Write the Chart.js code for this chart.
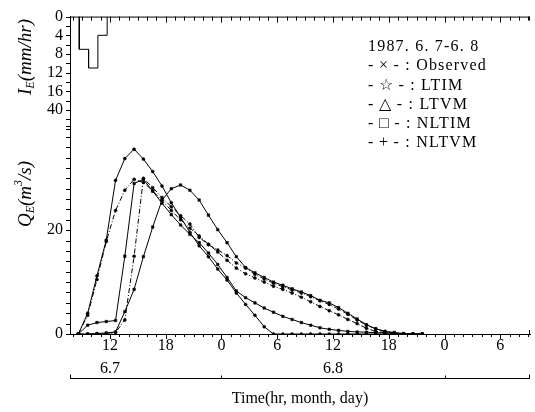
<!DOCTYPE html>
<html><head><meta charset="utf-8">
<script src="https://cdn.jsdelivr.net/npm/chart.js@4.4.1/dist/chart.umd.min.js"></script>
<style>html,body{margin:0;padding:0;background:#fff;}canvas{display:block;}</style>
</head><body>
<canvas id="c" width="535" height="412"></canvas>
<script>
// ---- data (hours counted from 6.7 00:00) ----
const hours = [8.6, 9.6, 10.6, 11.6, 12.6, 13.6, 14.6, 15.6, 16.6, 17.6, 18.6, 19.6, 20.6, 21.6, 22.6, 23.6, 24.6, 25.6, 26.6, 27.6, 28.6, 29.6, 30.6, 31.6, 32.6, 33.6, 34.6, 35.6, 36.6, 37.6, 38.6, 39.6, 40.6, 41.6, 42.6, 43.6, 44.6, 45.6];
const observed = [0, 0, 0.1, 0.2, 0.4, 4.3, 8.6, 14.9, 20.6, 25.8, 28.0, 28.7, 27.7, 25.8, 22.9, 20.1, 17.6, 14.9, 12.8, 11.8, 10.9, 10.0, 9.4, 8.7, 8.1, 7.4, 6.5, 6.0, 5.1, 4.0, 2.9, 1.8, 1.0, 0.5, 0.3, 0.1, 0, 0];
const ltim = [0, 3.6, 10.5, 17.8, 23.8, 27.7, 29.8, 29.2, 27.6, 25.7, 23.8, 22.0, 20.4, 18.9, 17.3, 15.8, 14.2, 12.7, 11.6, 10.8, 10.0, 9.2, 8.6, 7.9, 7.1, 6.2, 5.3, 4.5, 3.7, 2.8, 2.0, 1.1, 0.5, 0.3, 0.1, 0, 0, 0];
const ltvm = [0, 4.0, 11.2, 18.1, 29.6, 33.8, 35.6, 33.7, 31.3, 28.5, 25.3, 22.5, 19.6, 17.0, 14.9, 12.5, 10.4, 7.9, 5.7, 3.6, 1.4, 0, 0, 0, 0, 0, 0, 0, 0, 0, 0, 0, 0, 0, 0, 0, 0, 0];
const nltim = [0, 1.7, 2.2, 2.4, 2.6, 15.0, 29.0, 29.8, 27.5, 25.2, 23.0, 21.0, 19.2, 17.6, 15.6, 13.4, 10.9, 8.3, 7.0, 6.0, 5.0, 4.2, 3.4, 2.8, 2.2, 1.7, 1.2, 0.9, 0.7, 0.5, 0.4, 0.35, 0.25, 0.2, 0.1, 0, 0, 0];
const nltvm = [0, 0, 0, 0.1, 0.3, 2.7, 15.0, 30.0, 28.2, 26.3, 24.5, 22.8, 21.2, 18.6, 17.2, 16.2, 15.1, 13.7, 12.7, 11.5, 10.6, 9.8, 9.1, 8.5, 7.9, 7.2, 6.4, 5.7, 4.8, 3.8, 2.7, 1.7, 1.0, 0.5, 0.2, 0, 0, 0];
const rainEdges = [8.7, 9.7, 10.7, 11.7];
const rainIntensity = [7, 11, 4];

const xTickHours = [12, 18, 24, 30, 36, 42, 48, 54];
const xTickLabels = [['12', '6.7'], '18', '0', '6', ['12', '6.8'], '18', '0', '6'];
const dayBoundaries = [24, 48];
const qTickValues = [0, 20];
const qTickLabels = ['0', '20'];
const iTickValues = [0, 4, 8, 12, 16, 20];
const iTickLabels = ['0', '4', '8', '12', '16', '40'];
const legendTitle = '1987. 6. 7-6. 8';
const seriesNames = ['Observed', 'LTIM', 'LTVM', 'NLTIM', 'NLTVM'];
const seriesSymbols = ['×', '☆', '△', '□', '+'];
const xTitle = 'Time(hr, month, day)';

// ---- build ----
const SERIF = '"Liberation Serif", "DejaVu Serif", serif';
const seriesValues = [observed, ltim, ltvm, nltim, nltvm];
const dashes = [[], [5, 2, 1, 2], [], [], [5, 2, 1, 2]];
const styles = ['rect', 'circle', 'circle', 'rect', 'circle'];
const toXY = arr => hours.map((h, i) => ({x: h, y: arr[i]}));

const rainPts = [{x: rainEdges[0], y: 0}];
rainIntensity.forEach((v, i) => { rainPts.push({x: rainEdges[i], y: v}); rainPts.push({x: rainEdges[i + 1], y: v}); });
rainPts.push({x: rainEdges[rainEdges.length - 1], y: 0});

const datasets = seriesValues.map((arr, i) => ({
  label: seriesNames[i], data: toXY(arr), yAxisID: 'y',
  borderColor: '#000', borderWidth: 1, borderDash: dashes[i],
  pointRadius: styles[i] === 'rect' ? 1.8 : 1.5, pointStyle: styles[i],
  pointBackgroundColor: '#000', pointBorderColor: '#000', pointBorderWidth: 0.5,
  fill: false, tension: 0
}));
datasets.push({label: 'I_E', data: rainPts, yAxisID: 'yI', borderColor: '#000', borderWidth: 1, pointRadius: 0, fill: false, tension: 0});

function line(ctx, x1, y1, x2, y2) { ctx.beginPath(); ctx.moveTo(x1, y1); ctx.lineTo(x2, y2); ctx.stroke(); }
function rotatedLabel(ctx, cx, cy, parts) {
  ctx.save(); ctx.translate(cx, cy); ctx.rotate(-Math.PI / 2);
  let w = 0;
  parts.forEach(p => { ctx.font = p.f; p.w = ctx.measureText(p.t).width; w += p.w; });
  let xx = -w / 2;
  ctx.textBaseline = 'middle'; ctx.textAlign = 'left';
  parts.forEach(p => { ctx.font = p.f; ctx.fillText(p.t, xx, p.dy || 0); xx += p.w; });
  ctx.restore();
}

const decor = {
  id: 'decor',
  afterDraw(chart) {
    const {ctx, chartArea: {left, right, top, bottom}, scales: {x, y, yI}} = chart;
    ctx.save();
    ctx.strokeStyle = '#000'; ctx.fillStyle = '#000'; ctx.lineWidth = 1;
    line(ctx, left, top + 0.5, right, top + 0.5);
    line(ctx, right - 0.5, top, right - 0.5, top + 4);
    line(ctx, right - 0.5, bottom, right - 0.5, bottom - 4);
    for (let h = Math.ceil(x.min); h <= x.max; h++) {
      const px = Math.round(x.getPixelForValue(h)) + 0.5;
      const long = (h % 6 === 0) ? 2 : 0;
      line(ctx, px, top, px, top + 4 + long);
      line(ctx, px, bottom, px, bottom + 3 + long);
    }
    for (let q = 0; q <= 40; q += 2) {
      const py = Math.round(y.getPixelForValue(q)) + 0.5;
      line(ctx, left - 4, py, left, py);
    }
    for (let v = 0; v <= 24; v += 2) {
      const py = Math.round(yI.getPixelForValue(v)) + 0.5;
      line(ctx, left - 4, py, left, py);
    }
    ctx.font = '16px ' + SERIF; ctx.textAlign = 'right'; ctx.textBaseline = 'middle';
    iTickValues.forEach((v, k) => ctx.fillText(iTickLabels[k], left - 7, yI.getPixelForValue(v)));
    // day bracket
    const by = bottom + 44.5;
    line(ctx, left, by, right, by);
    line(ctx, left + 0.5, by, left + 0.5, by - 4);
    line(ctx, right - 0.5, by, right - 0.5, by - 4);
    dayBoundaries.forEach(d => { const px = Math.round(x.getPixelForValue(d)) + 0.5; line(ctx, px, by, px, by - 3); });
    // axis titles
    const big = 'italic 19px ' + SERIF, small = 'italic 12px ' + SERIF;
    rotatedLabel(ctx, 26, 57, [{t: 'I', f: big}, {t: 'E', f: small, dy: 5}, {t: '(mm/hr)', f: big}]);
    rotatedLabel(ctx, 26, 194, [{t: 'Q', f: big}, {t: 'E', f: small, dy: 5}, {t: '(m', f: big}, {t: '3', f: small, dy: -7}, {t: '/s)', f: big}]);
    // legend text
    ctx.font = '16px ' + SERIF; ctx.textAlign = 'left'; ctx.textBaseline = 'middle';
    if ('letterSpacing' in ctx) ctx.letterSpacing = '1.2px';
    const lines = [legendTitle].concat(seriesNames.map((n, i) => '-\u2009' + seriesSymbols[i] + '\u2009- : ' + n));
    lines.forEach((t, i) => ctx.fillText(t, 368, 47 + i * 19.2));
    ctx.restore();
  }
};

new Chart(document.getElementById('c'), {
  type: 'line',
  data: {datasets},
  options: {
    responsive: false, animation: false, devicePixelRatio: 1,
    layout: {padding: {top: 16, right: 5, left: 0, bottom: 0}},
    plugins: {legend: {display: false}, tooltip: {enabled: false}},
    scales: {
      x: {
        type: 'linear', min: 7.7, max: 57.2,
        afterBuildTicks: s => { s.ticks = xTickHours.map(v => ({value: v})); },
        afterFit: s => { s.height = 78; },
        ticks: {callback: (v, i) => xTickLabels[i], font: {family: SERIF, size: 16, lineHeight: 1.4}, color: '#000', padding: 1, maxRotation: 0, autoSkip: false},
        grid: {display: false, drawTicks: false},
        border: {display: true, color: '#000', width: 1},
        title: {display: true, text: xTitle, font: {family: SERIF, size: 16}, color: '#000', padding: {top: 4, bottom: 4}}
      },
      y: {
        type: 'linear', min: 0, max: 61.15,
        afterBuildTicks: s => { s.ticks = qTickValues.map(v => ({value: v})); },
        afterFit: s => { s.width = 70; },
        ticks: {callback: (v, i) => qTickLabels[i], font: {family: SERIF, size: 16}, color: '#000', padding: 7},
        grid: {display: false, drawTicks: false},
        border: {display: true, color: '#000', width: 1}
      },
      yI: {type: 'linear', display: false, min: 0, max: 67.9, reverse: true}
    }
  },
  plugins: [decor]
});
</script>
</body></html>
